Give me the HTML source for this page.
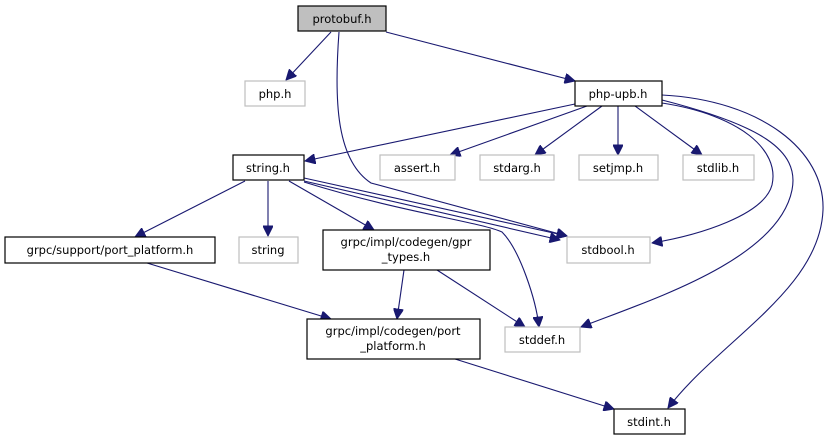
<!DOCTYPE html>
<html><head><meta charset="utf-8"><style>
html,body{margin:0;padding:0;background:#fff;}
svg{display:block;}
text{font-family:"DejaVu Sans","Liberation Sans",sans-serif;font-size:11.5px;fill:#000;text-anchor:middle;}
.b{fill:#fff;stroke:#000;stroke-width:1.2;}
.g{fill:#fff;stroke:#bfbfbf;stroke-width:1.2;}
.e{fill:none;stroke:#191970;stroke-width:1.1;}
</style></head><body>
<svg width="825" height="440" viewBox="0 0 825 440" xmlns="http://www.w3.org/2000/svg">
<defs><marker id="a" viewBox="0 0 10 10" refX="10" refY="5" markerWidth="11" markerHeight="10" markerUnits="userSpaceOnUse" orient="auto"><path d="M0,0 L10,5 L0,10 z" fill="#191970" stroke="#191970"/></marker></defs>
<g marker-end="url(#a)">
<path class="e" d="M331,32 L286,80"/>
<path class="e" d="M386,32 L575,81"/>
<path class="e" d="M339,32 C334,100 336,160 371,183 L567,236"/>
<path class="e" d="M575,104 L305,161"/>
<path class="e" d="M587,106 L450,155"/>
<path class="e" d="M602,106 L535,155"/>
<path class="e" d="M618,106 L618,155"/>
<path class="e" d="M635,106 L702,155"/>
<path class="e" d="M662,103 C740,115 780,150 772,185 C764,215 700,235 652,243"/>
<path class="e" d="M662,100 C760,125 800,150 792,190 C778,260 650,300 581,327"/>
<path class="e" d="M662,95 C760,100 825,150 823,210 C820,290 720,340 668,408"/>
<path class="e" d="M245,181 L135,237"/>
<path class="e" d="M268,181 L268,236"/>
<path class="e" d="M289,181 L374,230"/>
<path class="e" d="M304,178 L567,236"/>
<path class="e" d="M304,181 L560,240"/>
<path class="e" d="M304,182 C400,212 480,222 502,232 C520,250 536,300 539,327"/>
<path class="e" d="M404,270 L397,319"/>
<path class="e" d="M437,270 L525,327"/>
<path class="e" d="M147,263 L331,319"/>
<path class="e" d="M455,359 L614,409"/>
</g>
<rect x="298" y="6" width="88" height="25" fill="#bfbfbf" stroke="#000" stroke-width="1.2"/><text x="342" y="23">protobuf.h</text>
<rect class="g" x="245" y="81" width="60" height="25"/><text x="275" y="98">php.h</text>
<rect class="b" x="575" y="81" width="87" height="25"/><text x="618" y="98">php-upb.h</text>
<rect class="b" x="233" y="155" width="71" height="25"/><text x="268" y="172">string.h</text>
<rect class="g" x="380" y="155" width="75" height="25"/><text x="417" y="172">assert.h</text>
<rect class="g" x="480" y="155" width="74" height="25"/><text x="517" y="172">stdarg.h</text>
<rect class="g" x="579" y="155" width="79" height="25"/><text x="618" y="172">setjmp.h</text>
<rect class="g" x="683" y="155" width="71" height="25"/><text x="718" y="172">stdlib.h</text>
<rect class="b" x="5" y="237" width="210" height="26"/><text x="110" y="254">grpc/support/port_platform.h</text>
<rect class="g" x="239" y="237" width="59" height="26"/><text x="268" y="254">string</text>
<rect class="b" x="323" y="230" width="167" height="40"/><text x="406" y="246">grpc/impl/codegen/gpr</text><text x="406" y="261">_types.h</text>
<rect class="g" x="567" y="237" width="83" height="26"/><text x="608" y="254">stdbool.h</text>
<rect class="b" x="307" y="319" width="173" height="40"/><text x="393" y="335">grpc/impl/codegen/port</text><text x="393" y="350">_platform.h</text>
<rect class="g" x="505" y="327" width="75" height="25"/><text x="542" y="344">stddef.h</text>
<rect class="b" x="614" y="409" width="71" height="25"/><text x="649" y="426">stdint.h</text>
</svg>
</body></html>
